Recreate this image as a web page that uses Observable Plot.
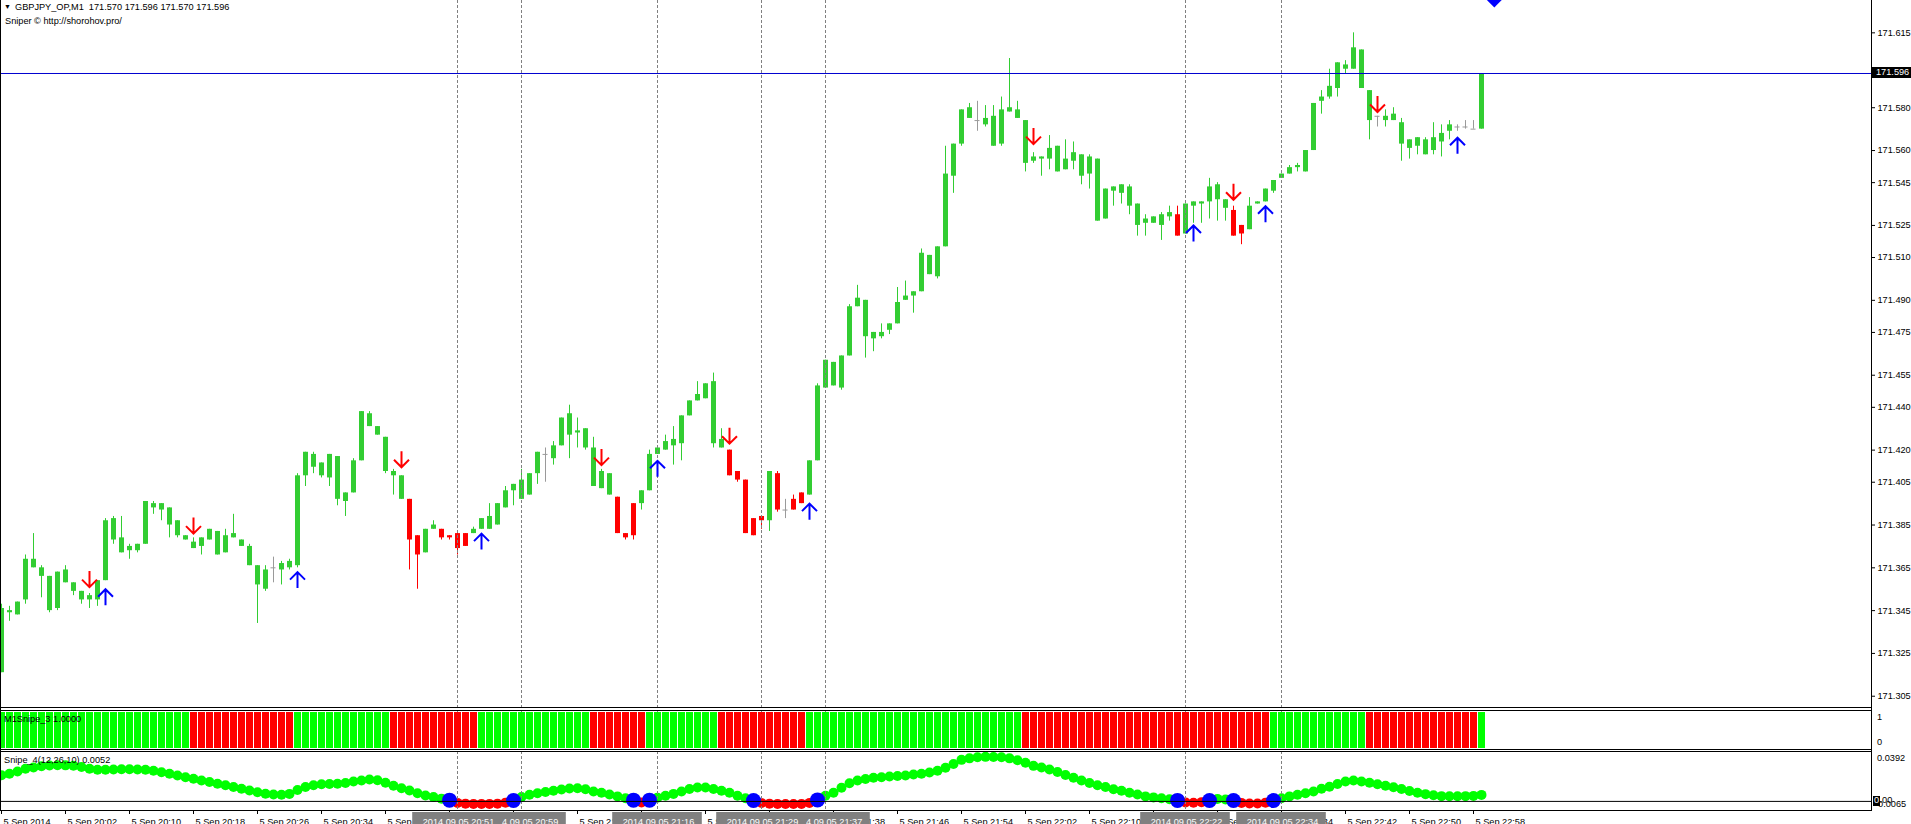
<!DOCTYPE html>
<html><head><meta charset="utf-8">
<script src="https://cdn.jsdelivr.net/npm/d3@7"></script>
<script src="https://cdn.jsdelivr.net/npm/@observablehq/plot@0.6"></script>
<style>
body{margin:0;background:#fff;}
#chart{position:relative;width:1911px;height:824px;overflow:hidden;background:#fff;font-family:"Liberation Sans",Arial,sans-serif;font-size:9.2px;color:#000;}
#chart svg{position:absolute;left:0;}
.lbl{position:absolute;white-space:pre;line-height:11px;height:11px;}
.ln{position:absolute;background:#000;}
</style></head><body><div id="chart"></div>
<script>
// ---------- data ----------
const opens = [171.316,171.344,171.343,171.350,171.365,171.361,171.345,171.346,171.358,171.354,
171.350,171.350,171.350,171.359,171.378,171.372,171.373,171.373,171.376,171.393,
171.392,171.385,171.380,171.378,171.374,171.375,171.378,171.371,171.372,171.379,
171.375,171.366,171.357,171.355,171.365,171.364,171.365,171.366,171.408,171.412,
171.408,171.407,171.397,171.396,171.400,171.415,171.431,171.427,171.410,171.408,
171.397,171.397,171.380,171.372,171.383,171.383,171.380,171.381,171.381,171.381,
171.383,171.383,171.385,171.393,171.401,171.397,171.399,171.409,171.418,171.416,
171.422,171.427,171.428,171.421,171.403,171.402,171.399,171.398,171.381,171.395,
171.395,171.401,171.418,171.420,171.422,171.423,171.436,171.443,171.444,171.423,
171.421,171.420,171.410,171.406,171.388,171.389,171.387,171.409,171.392,171.397,
171.400,171.399,171.415,171.449,171.450,171.449,171.464,171.487,171.473,171.472,
171.473,171.476,171.479,171.490,171.492,171.494,171.502,171.501,171.515,171.548,
171.563,171.575,171.574,171.572,171.562,171.563,171.578,171.575,171.554,171.555,
171.556,171.556,171.550,171.551,171.555,171.548,171.549,171.527,171.528,171.541,
171.540,171.534,171.525,171.526,171.526,171.525,171.529,171.530,171.521,171.534,
171.535,171.536,171.537,171.533,171.532,171.525,171.523,171.535,171.536,171.541,
171.547,171.549,171.552,171.550,171.560,171.583,171.585,171.589,171.598,171.598,
171.589,171.574,171.576,171.574,171.574,171.563,171.561,171.562,171.558,171.560,
171.564,171.569,171.571,171.571,171.570,171.570];
const highs = [171.348,171.347,171.349,171.371,171.381,171.366,171.361,171.363,171.366,171.358,
171.354,171.353,171.359,171.388,171.389,171.389,171.376,171.376,171.396,171.396,
171.395,171.393,171.387,171.380,171.379,171.379,171.383,171.382,171.383,171.390,
171.378,171.376,171.366,171.366,171.370,171.368,171.369,171.409,171.419,171.419,
171.414,171.418,171.417,171.400,171.416,171.438,171.438,171.431,171.426,171.411,
171.408,171.397,171.380,171.383,171.387,171.383,171.380,171.381,171.381,171.384,
171.388,171.395,171.395,171.403,171.404,171.411,171.409,171.419,171.421,171.424,
171.435,171.441,171.435,171.430,171.426,171.411,171.409,171.398,171.381,171.395,
171.401,171.420,171.421,171.427,171.431,171.436,171.443,171.452,171.451,171.456,
171.430,171.420,171.410,171.406,171.388,171.389,171.410,171.410,171.397,171.399,
171.400,171.415,171.451,171.462,171.461,171.464,171.488,171.497,171.490,171.475,
171.479,171.479,171.496,171.499,171.494,171.514,171.511,171.515,171.562,171.563,
171.579,171.582,171.583,171.581,171.581,171.585,171.603,171.583,171.574,171.559,
171.557,171.567,171.562,171.565,171.564,171.558,171.558,171.556,171.542,171.543,
171.544,171.544,171.535,171.530,171.529,171.531,171.534,171.534,171.535,171.536,
171.536,171.547,171.545,171.537,171.534,171.525,171.538,171.536,171.542,171.546,
171.549,171.553,171.554,171.560,171.582,171.588,171.598,171.601,171.602,171.615,
171.607,171.588,171.576,171.579,171.580,171.575,171.565,171.566,171.566,171.573,
171.572,171.574,171.572,171.574,171.574,171.596];
const lows = [171.316,171.340,171.343,171.348,171.365,171.351,171.344,171.345,171.358,171.352,
171.348,171.346,171.347,171.359,171.376,171.372,171.369,171.372,171.376,171.390,
171.387,171.379,171.379,171.378,171.374,171.371,171.378,171.371,171.372,171.379,
171.375,171.366,171.339,171.354,171.358,171.357,171.364,171.365,171.403,171.409,
171.407,171.403,171.394,171.389,171.400,171.415,171.431,171.427,171.409,171.399,
171.397,171.364,171.355,171.372,171.383,171.378,171.378,171.371,171.375,171.381,
171.383,171.383,171.385,171.393,171.394,171.397,171.399,171.404,171.405,171.413,
171.422,171.416,171.421,171.420,171.403,171.402,171.399,171.381,171.378,171.378,
171.392,171.401,171.418,171.420,171.413,171.415,171.436,171.443,171.444,171.421,
171.421,171.408,171.405,171.381,171.380,171.383,171.382,171.391,171.388,171.392,
171.395,171.399,171.415,171.449,171.450,171.448,171.464,171.487,171.463,171.466,
171.472,171.474,171.479,171.490,171.484,171.494,171.502,171.500,171.515,171.540,
171.562,171.575,171.569,171.571,171.562,171.562,171.578,171.575,171.550,171.554,
171.548,171.551,171.550,171.551,171.551,171.544,171.542,171.527,171.528,171.534,
171.535,171.530,171.520,171.520,171.526,171.518,171.527,171.520,171.521,171.526,
171.526,171.528,171.527,171.527,171.520,171.516,171.523,171.535,171.536,171.540,
171.547,171.549,171.550,171.550,171.560,171.577,171.584,171.585,171.596,171.598,
171.589,171.565,171.571,171.571,171.574,171.555,171.556,171.558,171.558,171.558,
171.557,171.565,171.569,171.570,171.570,171.570];
const closes = [171.346,171.345,171.349,171.369,171.369,171.365,171.361,171.363,171.364,171.358,
171.354,171.352,171.359,171.387,171.388,171.379,171.375,171.376,171.396,171.395,
171.395,171.393,171.387,171.380,171.377,171.379,171.383,171.382,171.380,171.381,
171.378,171.375,171.366,171.364,171.365,171.367,171.368,171.408,171.419,171.418,
171.414,171.418,171.417,171.400,171.415,171.438,171.437,171.431,171.426,171.410,
171.408,171.378,171.371,171.383,171.385,171.379,171.379,171.374,171.375,171.383,
171.388,171.389,171.395,171.401,171.404,171.406,171.409,171.419,171.418,171.422,
171.435,171.437,171.429,171.430,171.421,171.410,171.409,171.381,171.379,171.380,
171.401,171.418,171.421,171.424,171.425,171.436,171.443,171.446,171.451,171.452,
171.425,171.408,171.406,171.381,171.380,171.387,171.410,171.392,171.392,171.392,
171.395,171.415,171.450,171.462,171.461,171.464,171.487,171.491,171.490,171.475,
171.475,171.479,171.489,171.492,171.494,171.512,171.511,171.515,171.549,171.563,
171.579,171.580,171.574,171.575,171.576,171.579,171.580,171.579,171.574,171.557,
171.557,171.561,171.562,171.556,171.559,171.558,171.557,171.556,171.542,171.543,
171.544,171.543,171.535,171.528,171.529,171.530,171.531,171.520,171.535,171.536,
171.536,171.543,171.544,171.537,171.520,171.521,171.534,171.536,171.542,171.546,
171.549,171.552,171.553,171.560,171.582,171.585,171.590,171.601,171.600,171.608,
171.607,171.588,171.576,171.576,171.577,171.573,171.565,171.566,171.565,171.566,
171.568,171.572,171.571,171.571,171.570,171.596];
const redCandles = [51,52,55,56,57,58,77,78,79,91,92,93,94,95,97,99,100,147,154,155];
const currentPrice = 171.596;
const priceTicks = [171.615,171.580,171.560,171.545,171.525,171.510,171.490,171.475,171.455,171.440,171.420,171.405,171.385,171.365,171.345,171.325,171.305];
const sellBars = [11,24,50,75,91,129,154,172];
const sellPrices = [171.356,171.381,171.412,171.413,171.423,171.563,171.537,171.578];
const buyBars = [13,37,60,82,101,149,158,182];
const buyPrices = [171.355,171.363,171.381,171.415,171.395,171.525,171.534,171.566];
const markerBar = 186.6, markerPrice = 171.6305;

// M1Snipe_3 histogram state per bar (G = up, R = down); level is 1 on every bar
const m1SnipeLevel = 1;
const m1SnipeState = ("GGGGGGGGGGGGGGGGGGGGGGGG" + "RRRRRRRRRRRRR" + "GGGGGGGGGGGG" + "RRRRRRRRRRR" +
  "GGGGGGGGGGGGGG" + "RRRRRRR" + "GGGGGGGGG" + "RRRRRRRRRRR" + "GGGGGGGGGGGGGGGGGGGGGGGGGGG" +
  "RRRRRRRRRRRRRRRRRRRRRRRRRRRRRRR" + "GGGGGGGGGGGG" + "RRRRRRRRRRRRRR" + "G").split("");

// Snipe_4(12,26,10) values per bar
const snipe4 = [0.0210,0.0221,0.0240,0.0261,0.0272,0.0282,0.0288,0.0290,0.0289,0.0286,
0.0276,0.0262,0.0253,0.0254,0.0256,0.0257,0.0258,0.0256,0.0253,0.0245,
0.0233,0.0221,0.0207,0.0194,0.0181,0.0168,0.0155,0.0141,0.0130,0.0115,
0.0101,0.0087,0.0073,0.0061,0.0055,0.0053,0.0060,0.0092,0.0115,0.0130,
0.0138,0.0140,0.0141,0.0148,0.0160,0.0167,0.0175,0.0170,0.0150,0.0125,
0.0105,0.0087,0.0065,0.0047,0.0035,0.0022,0.0010,-0.0012,-0.0018,-0.0020,
-0.0020,-0.0020,-0.0018,-0.0010,0.0007,0.0035,0.0053,0.0065,0.0075,0.0085,
0.0095,0.0103,0.0106,0.0098,0.0080,0.0070,0.0055,0.0040,0.0025,0.0010,
-0.0008,0.0010,0.0030,0.0045,0.0060,0.0080,0.0100,0.0112,0.0112,0.0100,
0.0085,0.0070,0.0045,0.0025,0.0007,-0.0012,-0.0018,-0.0020,-0.0021,-0.0021,
-0.0020,-0.0012,0.0012,0.0045,0.0070,0.0110,0.0145,0.0167,0.0180,0.0190,
0.0194,0.0200,0.0204,0.0208,0.0215,0.0222,0.0232,0.0245,0.0270,0.0300,
0.0333,0.0345,0.0354,0.0357,0.0356,0.0354,0.0345,0.0330,0.0310,0.0285,
0.0272,0.0255,0.0235,0.0212,0.0190,0.0168,0.0148,0.0130,0.0115,0.0098,
0.0085,0.0070,0.0055,0.0040,0.0032,0.0025,0.0017,0.0008,-0.0008,-0.0011,
-0.0006,0.0007,0.0020,0.0015,0.0007,-0.0012,-0.0017,-0.0017,-0.0010,0.0007,
0.0025,0.0040,0.0053,0.0065,0.0080,0.0101,0.0118,0.0140,0.0160,0.0167,
0.0160,0.0149,0.0138,0.0126,0.0114,0.0099,0.0084,0.0069,0.0058,0.0049,
0.0042,0.0041,0.0041,0.0042,0.0044,0.0052];
const snipeCross = [56,64,79,81,94,102,147,151,154,159];
const snipeMax = 0.0392, snipeMin = -0.0065;

const tickBars = [0,8,16,24,32,40,48,56,64,72,80,88,96,104,112,120,128,136,144,152,160,168,176,184];
const tickLabels = ["5 Sep 2014","5 Sep 20:02","5 Sep 20:10","5 Sep 20:18","5 Sep 20:26","5 Sep 20:34","5 Sep 20:42","5 Sep 20:50",
"5 Sep 20:58","5 Sep 21:06","5 Sep 21:14","5 Sep 21:22","5 Sep 21:30","5 Sep 21:38","5 Sep 21:46","5 Sep 21:54","5 Sep 22:02",
"5 Sep 22:10","5 Sep 22:18","5 Sep 22:26","5 Sep 22:34","5 Sep 22:42","5 Sep 22:50","5 Sep 22:58"];
const vlineBars = [57,65,82,95,103,148,160];
const vlineLabels = ["2014.09.05 20:51","2014.09.05 20:59","2014.09.05 21:16","2014.09.05 21:29","2014.09.05 21:37","2014.09.05 22:22","2014.09.05 22:34"];

// ---------- drawing ----------
const FONT = '"Liberation Sans", Arial, sans-serif';
const FS = "9.2px";
const chart = document.getElementById("chart");
const xDomain = [-0.125, 233.75];
const common = {width: 1911, marginLeft: 0, marginRight: 40, marginTop: 0, marginBottom: 0,
  style: {fontFamily: FONT, fontSize: FS, background: "transparent", color: "#000", overflow: "visible"}};
const DASH = {stroke: "#808080", strokeDasharray: "3,2"};

const bars = opens.map((o, i) => ({i, open: o, high: highs[i], low: lows[i], close: closes[i],
  state: o === closes[i] ? "flat" : (redCandles.includes(i) ? "down" : "up")}));

const arrowShape = {
  draw(ctx, l) {
    const w = 7.5;
    ctx.moveTo(0, 0); ctx.lineTo(0, -l);
    ctx.moveTo(-w, -l + w); ctx.lineTo(0, -l); ctx.lineTo(w, -l + w);
  }
};

const main = Plot.plot({
  ...common, height: 708,
  x: {domain: xDomain, axis: null},
  y: {domain: [171.29973, 171.63011], range: [707, 0], axis: "right", ticks: priceTicks,
      tickFormat: d => d.toFixed(3), tickSize: 3, tickPadding: 3, label: null},
  color: {type: "ordinal", domain: ["up", "down", "flat"], range: ["#32cd32", "#ff0000", "#9a9a9a"]},
  marks: [
    Plot.ruleX(bars, {x: "i", y1: "low", y2: "high", stroke: "state"}),
    Plot.ruleX(bars.filter(d => d.state !== "flat"), {x: "i", y1: "open", y2: "close", stroke: "state", strokeWidth: 5}),
    Plot.ruleY(bars.filter(d => d.state === "flat"), {y: "open", x1: d => d.i - 0.3125, x2: d => d.i + 0.3125, stroke: "state"}),
    Plot.ruleY([currentPrice], {stroke: "#0000d0"}),
    Plot.ruleX(vlineBars, {x: d => d, ...DASH}),
    Plot.vector(sellBars.map((b, i) => ({b, p: sellPrices[i]})), {x: "b", y: "p", length: 16, rotate: 180, anchor: "end",
      shape: arrowShape, stroke: "#ff0000", strokeWidth: 2, strokeLinecap: "butt", strokeLinejoin: "miter"}),
    Plot.vector(buyBars.map((b, i) => ({b, p: buyPrices[i]})), {x: "b", y: "p", length: 16, rotate: 0, anchor: "end",
      shape: arrowShape, stroke: "#0000ff", strokeWidth: 2, strokeLinecap: "butt", strokeLinejoin: "miter"}),
    Plot.dot([{b: markerBar, p: markerPrice}], {x: "b", y: "p", symbol: "diamond2", r: 7, fill: "#0000ff"})
  ]
});
main.style.top = "0px";
chart.appendChild(main);

const hist = Plot.plot({
  ...common, height: 40,
  x: {domain: xDomain, axis: null},
  y: {domain: [0, 1], range: [38, 2], axis: null},
  color: {type: "ordinal", domain: ["G", "R"], range: ["#00ff00", "#ff0000"]},
  marks: [
    Plot.ruleX(vlineBars, {x: d => d, ...DASH}),
    Plot.ruleX(m1SnipeState.map((s, i) => ({i, s, v: m1SnipeLevel})), {x: "i", y1: 0, y2: "v", stroke: "s", strokeWidth: 7})
  ]
});
hist.style.top = "710px";
chart.appendChild(hist);

const sn = snipe4.map((v, i) => ({i, v, kind: snipeCross.includes(i) ? "B" : (v < 0 ? "R" : "G")}));
const ind = Plot.plot({
  ...common, height: 60,
  x: {domain: xDomain, axis: null},
  y: {domain: [snipeMin, snipeMax], range: [58, 1], axis: null},
  marks: [
    Plot.dot(sn.filter(d => d.kind === "G"), {x: "i", y: "v", r: 5, fill: "#00ff00"}),
    Plot.dot(sn.filter(d => d.kind === "R"), {x: "i", y: "v", r: 5, fill: "#ff0000"}),
    Plot.dot(sn.filter(d => d.kind === "B"), {x: "i", y: "v", r: 7.5, fill: "#0000ff"}),
    Plot.ruleX(vlineBars, {x: d => d, ...DASH}),
    Plot.ruleY([0], {stroke: "#000"})
  ]
});
ind.style.top = "751px";
chart.appendChild(ind);

const vl = vlineBars.map((b, i) => ({b, label: vlineLabels[i]})).reverse();
const axis = Plot.plot({
  ...common, height: 22,
  x: {domain: xDomain, axis: null},
  marks: [
    Plot.ruleX(tickBars, {x: d => d, stroke: "#000", insetBottom: 18}),
    Plot.text(tickBars, {x: d => d, text: (d, i) => tickLabels[i], frameAnchor: "top", dy: 7.5, dx: 2, textAnchor: "start", fill: "#000"}),
    ...vl.flatMap(d => [
      Plot.rect([d], {x1: e => e.b - 5.6, x2: e => e.b + 5.6, insetTop: 2, fill: "#808080"}),
      Plot.text([d], {x: "b", text: "label", frameAnchor: "top", dy: 7.5, dx: 1, fill: "#ffffff"})
    ])
  ]
});
axis.style.top = "810px";
chart.appendChild(axis);

// ---------- panel frames ----------
function ln(l, t, w, h) { const d = document.createElement("div"); d.className = "ln";
  Object.assign(d.style, {left: l + "px", top: t + "px", width: w + "px", height: h + "px"}); chart.appendChild(d); }
ln(0, 0, 1, 811);          // left edge
ln(1871, 0, 1, 811);       // price-scale edge
ln(0, 707, 1872, 1);       // main bottom
ln(0, 710, 1872, 1); ln(0, 749, 1872, 1);   // M1Snipe_3 window
ln(0, 751, 1872, 1); ln(0, 810, 1872, 1);   // Snipe_4 window

// ---------- texts ----------
function lbl(text, l, cy, extra) { const d = document.createElement("div"); d.className = "lbl"; d.textContent = text;
  Object.assign(d.style, {left: l + "px", top: (cy - 5.5) + "px"}, extra || {}); chart.appendChild(d); return d; }
lbl("\u25BC", 4, 6.5, {fontSize: "7px"});
lbl("GBPJPY_OP,M1  " + [opens[185], highs[185], lows[185], closes[185]].map(v => v.toFixed(3)).join(" "), 15, 7.5);
lbl("Sniper \u00A9 http://shorohov.pro/", 5, 21);
lbl("M1Snipe_3 " + m1SnipeLevel.toFixed(4), 4, 719.5);
lbl("Snipe_4(12,26,10) " + snipe4[185].toFixed(4), 4, 760);
lbl(String(m1SnipeLevel), 1877, 717);
lbl("0", 1877, 742);
lbl(snipeMax.toFixed(4), 1877, 758);
lbl(snipeMin.toFixed(4), 1875, 804);
const zy = 751 + ind.scale("y").apply(0);
const zb = document.createElement("div");
Object.assign(zb.style, {position: "absolute", left: "1873px", top: (zy - 5) + "px", width: "7px", height: "10px", background: "#000"});
chart.appendChild(zb);
lbl("0", 1874, zy - 0.5, {color: "#fff"});
lbl(".00", 1879.5, zy - 0.5);
const py = main.scale("y").apply(currentPrice);
lbl(currentPrice.toFixed(3), 1872, py, {background: "#000", color: "#fff", width: "35px", paddingLeft: "4px", height: "11px"});
</script></body></html>
